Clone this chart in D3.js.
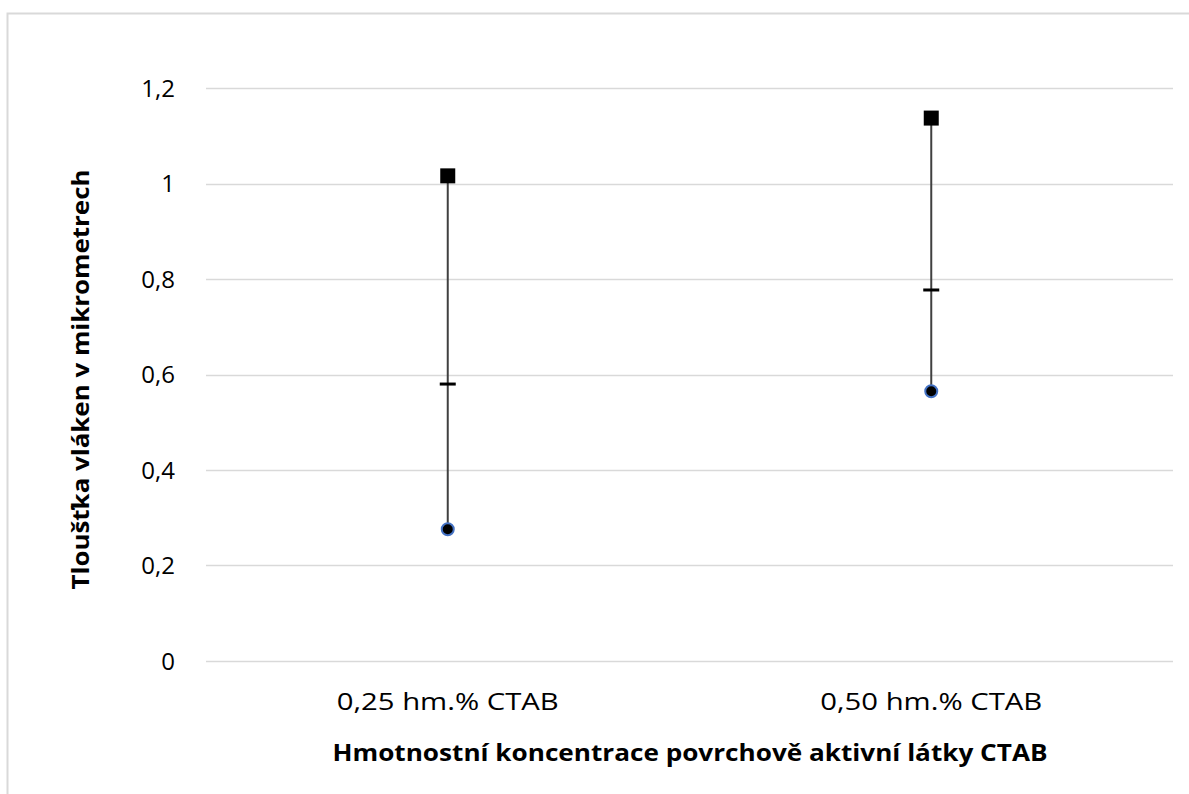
<!DOCTYPE html>
<html>
<head>
<meta charset="utf-8">
<script src="https://cdn.jsdelivr.net/npm/d3@7"></script>
<style>
  body { margin: 0; background: #fff; }
  svg { display: block; font-family: "Open Sans", "Liberation Sans", sans-serif; }
</style>
</head>
<body>
<svg id="chart" width="1189" height="794"></svg>
<script>
// data
const categories = ["0,25 hm.% CTAB", "0,50 hm.% CTAB"];
const highValues = [1.016, 1.137];
const meanValues = [0.58, 0.777];
const lowValues = [0.276, 0.565];
const yTicks = [0, 0.2, 0.4, 0.6, 0.8, 1, 1.2];

const margin = {top: 88, right: 16, bottom: 133, left: 206};
const width = 1189, height = 794;

const svg = d3.select("#chart");

// outer chart border (top + left visible)
svg.append("rect")
    .attr("x", 7.5).attr("y", 13.5)
    .attr("width", 1200).attr("height", 800)
    .attr("fill", "none")
    .attr("stroke", "#d9d9d9")
    .attr("stroke-width", 2);

const x = d3.scaleBand()
    .domain(categories)
    .range([margin.left, width - margin.right]);

const y = d3.scaleLinear()
    .domain([0, 1.2])
    .range([height - margin.bottom, margin.top]);

// grid lines
svg.append("g")
    .selectAll("line")
    .data(yTicks)
    .enter().append("line")
        .attr("x1", margin.left)
        .attr("x2", width - margin.right)
        .attr("y1", d => Math.round(y(d)) + 0.5)
        .attr("y2", d => Math.round(y(d)) + 0.5)
        .attr("stroke", "#d9d9d9")
        .attr("stroke-width", 1.5);

// y tick labels
svg.append("g")
    .attr("text-anchor", "end")
    .style("font-size", "24px")
    .attr("fill", "#000")
    .selectAll("text")
    .data(yTicks)
    .enter().append("text")
        .attr("x", margin.left - 31)
        .attr("y", d => y(d))
        .attr("dy", "0.36em")
        .text(d => String(d).replace(".", ","));

// category labels
svg.append("g")
    .attr("text-anchor", "middle")
    .style("font-size", "24px")
    .selectAll("text")
    .data(categories)
    .enter().append("text")
        .attr("x", d => x(d) + x.bandwidth() / 2)
        .attr("y", 701)
        .attr("dy", "0.36em")
        .attr("textLength", 222)
        .attr("lengthAdjust", "spacingAndGlyphs")
        .text(d => d);

const cx = i => x(categories[i]) + x.bandwidth() / 2;
const idx = d3.range(categories.length);

// high-low lines
svg.append("g")
    .selectAll("line")
    .data(idx)
    .enter().append("line")
        .attr("x1", cx).attr("x2", cx)
        .attr("y1", i => y(highValues[i]))
        .attr("y2", i => y(lowValues[i]))
        .attr("stroke", "#404040")
        .attr("stroke-width", 2);

// mean dashes
svg.append("g")
    .selectAll("rect")
    .data(idx)
    .enter().append("rect")
        .attr("x", i => cx(i) - 8)
        .attr("y", i => y(meanValues[i]) - 1.5)
        .attr("width", 16)
        .attr("height", 3)
        .attr("fill", "#000");

// high squares
svg.append("g")
    .selectAll("rect")
    .data(idx)
    .enter().append("rect")
        .attr("x", i => cx(i) - 7.5)
        .attr("y", i => y(highValues[i]) - 7.5)
        .attr("width", 15)
        .attr("height", 15)
        .attr("fill", "#000");

// low circles
svg.append("g")
    .selectAll("circle")
    .data(idx)
    .enter().append("circle")
        .attr("cx", cx)
        .attr("cy", i => y(lowValues[i]))
        .attr("r", 6)
        .attr("fill", "#000")
        .attr("stroke", "#4472c4")
        .attr("stroke-width", 2);

// axis titles
svg.append("text")
    .attr("x", 690)
    .attr("y", 752)
    .attr("dy", "0.36em")
    .attr("text-anchor", "middle")
    .style("font-size", "24px")
    .style("font-weight", "bold")
    .attr("textLength", 715)
    .attr("lengthAdjust", "spacingAndGlyphs")
    .text("Hmotnostní koncentrace povrchově aktivní látky CTAB");

svg.append("text")
    .attr("transform", `translate(80, ${(margin.top + height - margin.bottom) / 2 + 5}) rotate(-90)`)
    .attr("dy", "0.36em")
    .attr("text-anchor", "middle")
    .style("font-size", "24px")
    .style("font-weight", "bold")
    .attr("textLength", 420)
    .attr("lengthAdjust", "spacingAndGlyphs")
    .text("Tloušťka vláken v mikrometrech");
</script>
</body>
</html>
